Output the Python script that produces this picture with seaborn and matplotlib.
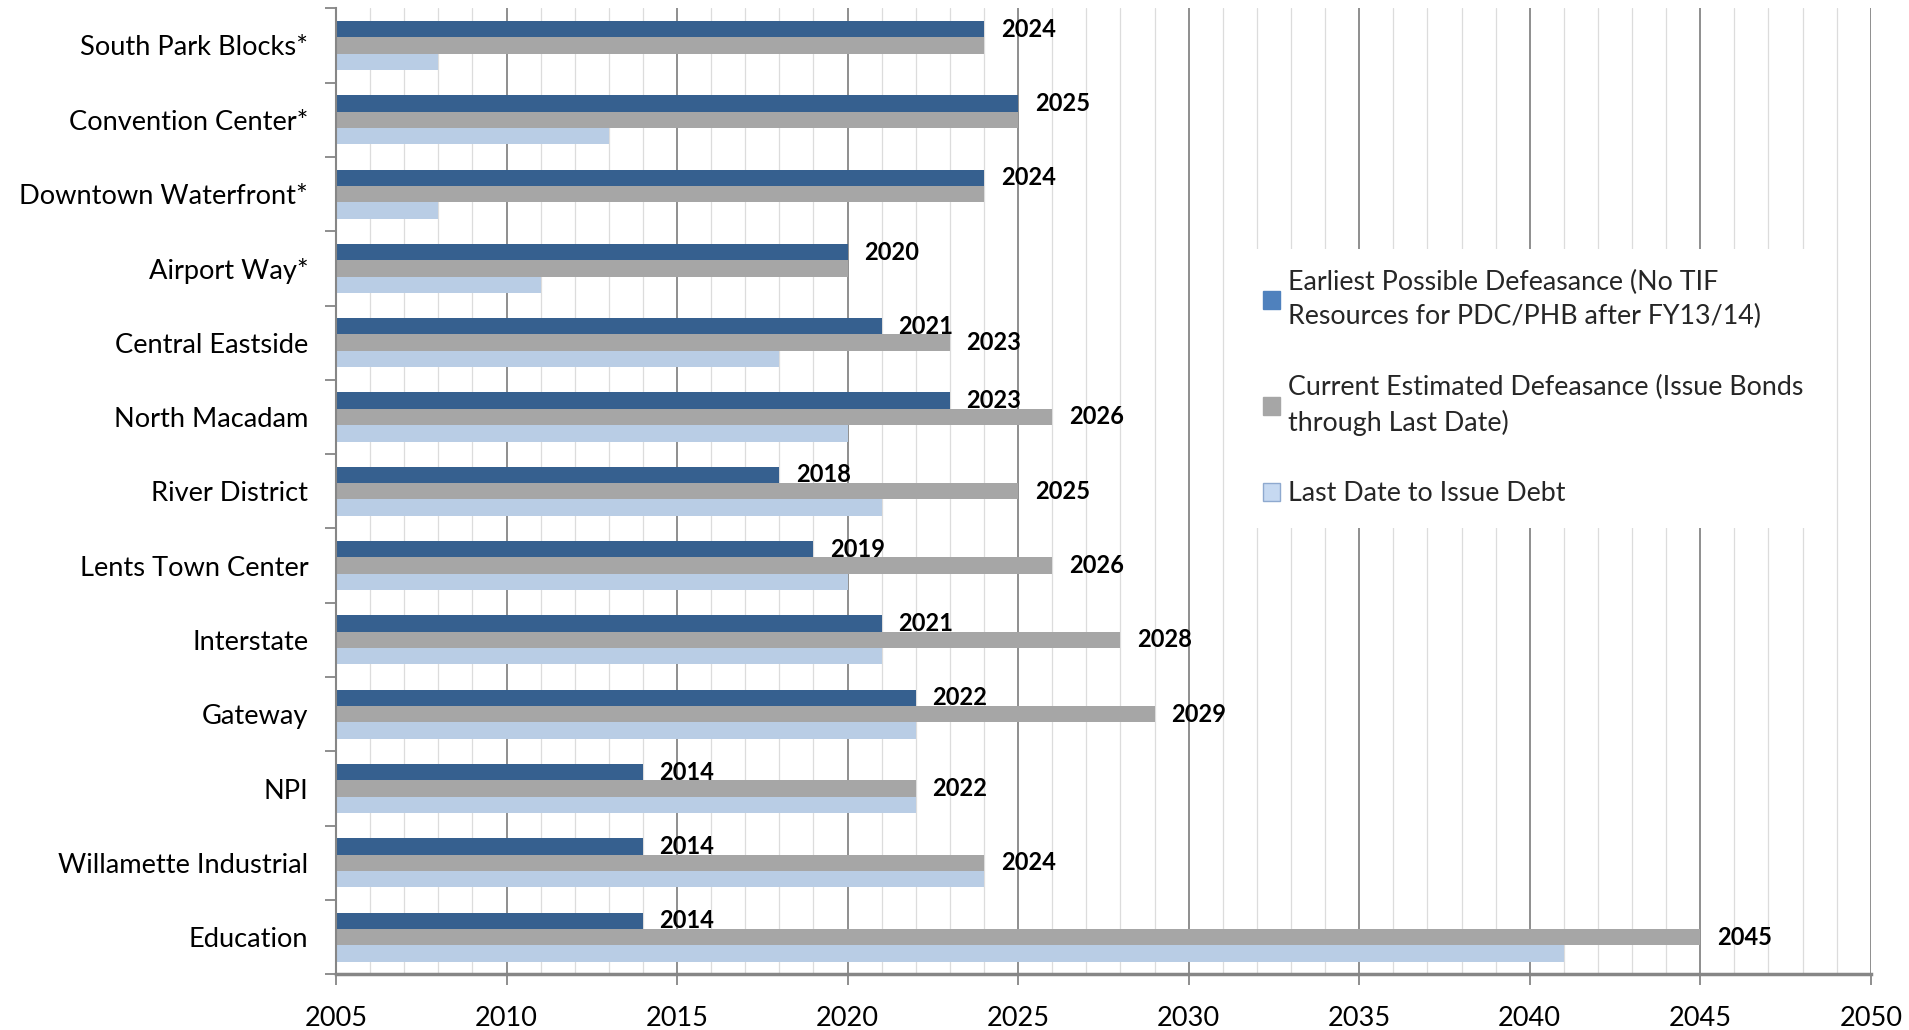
import numpy as np
import pandas as pd
import matplotlib
matplotlib.use("Agg")
import matplotlib.pyplot as plt
from matplotlib.ticker import MultipleLocator, FixedLocator
from matplotlib.patches import Patch
import seaborn as sns

districts = ["South Park Blocks*", "Convention Center*", "Downtown Waterfront*", "Airport Way*",
             "Central Eastside", "North Macadam", "River District", "Lents Town Center",
             "Interstate", "Gateway", "NPI", "Willamette Industrial", "Education"]
earliest = [2024, 2025, 2024, 2020, 2021, 2023, 2018, 2019, 2021, 2022, 2014, 2014, 2014]
current = [2024, 2025, 2024, 2020, 2023, 2026, 2025, 2026, 2028, 2029, 2022, 2024, 2045]
last_date = [2008, 2013, 2008, 2011, 2018, 2020, 2021, 2020, 2021, 2022, 2022, 2024, 2041]
series_names = ["Earliest Possible Defeasance (No TIF\nResources for PDC/PHB after FY13/14)",
                "Current Estimated Defeasance (Issue Bonds\nthrough Last Date)",
                "Last Date to Issue Debt"]
colors = ["#36608F", "#A6A6A6", "#B9CDE5"]
legend_colors = ["#4F81BD", "#A6A6A6", "#C6D9F1"]

df = pd.DataFrame({
    "district": districts * 3,
    "year": earliest + current + last_date,
    "series": [series_names[0]] * 13 + [series_names[1]] * 13 + [series_names[2]] * 13,
})

sns.set_theme(style="white")
plt.rcParams["font.family"] = ["Lato", "DejaVu Sans"]

fig = plt.figure(figsize=(19.09, 10.30), dpi=100)
ax = fig.add_axes([0.176, 0.054, 0.804, 0.938])

sns.barplot(data=df, y="district", x="year", hue="series", orient="h",
            palette=colors, hue_order=series_names, order=districts,
            width=0.66, saturation=1, linewidth=0, legend=False, ax=ax)

ax.set_xlim(2005, 2050)
ax.set_ylim(12.5, -0.5)
ax.set_xlabel("")
ax.set_ylabel("")

ax.set_axisbelow(True)
ax.xaxis.set_major_locator(MultipleLocator(5))
ax.xaxis.set_minor_locator(MultipleLocator(1))
ax.grid(which="major", axis="x", color="#868686", lw=1.3)
ax.grid(which="minor", axis="x", color="#DCDCDC", lw=0.9)
ax.grid(which="major", axis="y", visible=False)

ax.yaxis.set_minor_locator(FixedLocator(np.arange(-0.5, 13, 1)))
ax.tick_params(axis="y", which="major", length=0, pad=20, labelsize=19.6, labelcolor="black")
ax.tick_params(axis="y", which="minor", length=8, color="#868686", width=1.3, direction="out", left=True)
ax.tick_params(axis="x", which="major", length=8, color="#868686", width=1.3, direction="out",
               bottom=True, pad=15, labelsize=19.5, labelcolor="black")
ax.tick_params(axis="x", which="minor", length=0)

for s in ["top", "right"]:
    ax.spines[s].set_visible(False)
ax.spines["left"].set_color("#868686")
ax.spines["left"].set_linewidth(1.5)
ax.spines["bottom"].set_color("#868686")
ax.spines["bottom"].set_linewidth(2.5)

cont_dark, cont_gray = ax.containers[0], ax.containers[1]
ax.bar_label(cont_dark, labels=[str(v) for v in earliest], padding=12,
             fontsize=17, fontweight="bold", color="black")
ax.bar_label(cont_gray, labels=[str(c) if c != e else "" for c, e in zip(current, earliest)],
             padding=12, fontsize=17, fontweight="bold", color="black")

handles = [Patch(facecolor=c, edgecolor=("#8EA9CF" if i == 2 else c)) for i, c in enumerate(legend_colors)]
leg = ax.legend(handles, series_names, loc="upper left", bbox_to_anchor=(0.581, 0.765),
                frameon=True, facecolor="white", edgecolor="white", framealpha=1,
                fontsize=19.3, labelspacing=1.7, handlelength=0.65, handleheight=0.65,
                handletextpad=0.3, borderpad=0.8)
leg.get_frame().set_linewidth(0)
for t in leg.get_texts():
    t.set_linespacing(1.45)

fig.savefig("out.png", dpi=100)
